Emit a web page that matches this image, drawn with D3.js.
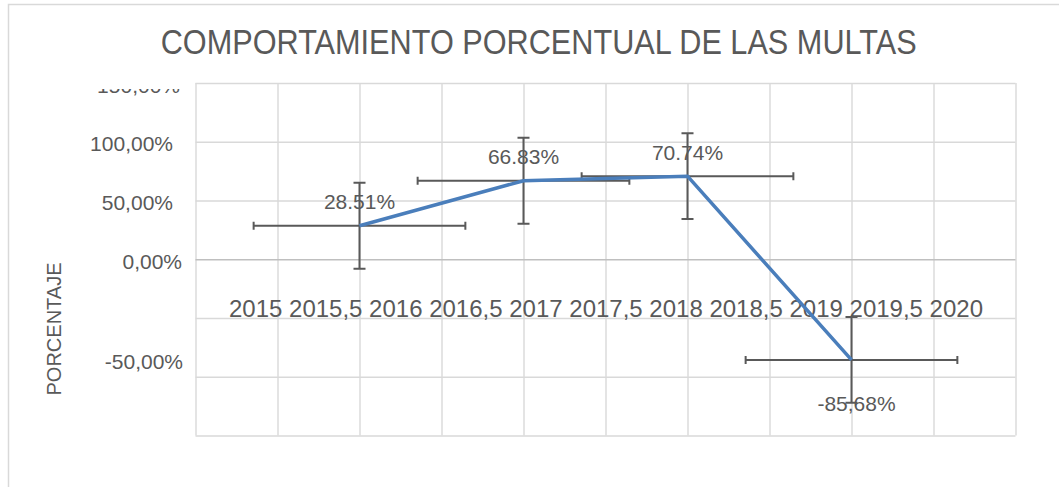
<!DOCTYPE html>
<html>
<head>
<meta charset="utf-8">
<script src="https://cdn.jsdelivr.net/npm/d3@7"></script>
<style>
  body { margin: 0; background: #fff; }
  text { font-family: "Liberation Sans", Arial, sans-serif; fill: #595959; }
</style>
</head>
<body>
<svg class="chart"></svg>
<script>
// data
var years = [2016, 2017, 2018, 2019];
var percents = [28.51, 66.83, 70.74, -85.68];
var pointLabels = ["28.51%", "66.83%", "70.74%", "-85,68%"];
var xTickLabels = ["2015", "2015,5", "2016", "2016,5", "2017", "2017,5", "2018", "2018,5", "2019", "2019,5", "2020"];
var yTickValues = [150, 100, 50, 0, -85];
var yTickLabels = ["150,00%", "100,00%", "50,00%", "0,00%", "-50,00%"];

var W = 1059, H = 487;
var plotLeft = 195.5, plotRight = 1015.5, plotTop = 83, plotBottom = 435.5;

var svg = d3.select(".chart")
    .attr("width", W)
    .attr("height", H);

// chart area border (runs off the right and bottom)
svg.append("rect")
    .attr("x", 8.5)
    .attr("y", 4.5)
    .attr("width", 1200)
    .attr("height", 700)
    .attr("fill", "#fff")
    .attr("stroke", "#d9d9d9")
    .attr("stroke-width", 1.5);

var x = d3.scaleLinear().domain([2015, 2020]).range([plotLeft, plotRight]);
var y = d3.scaleLinear().domain([-150, 150]).range([plotBottom, plotTop]);

// vertical gridlines
svg.append("g")
    .attr("transform", "translate(0," + plotBottom + ")")
    .call(d3.axisBottom(x).tickValues(d3.range(2015, 2020.01, 0.5)).tickSize(-(plotBottom - plotTop)).tickFormat(""))
    .call(g => g.select(".domain").remove())
    .call(g => g.selectAll("line").attr("stroke", "#d9d9d9").attr("stroke-width", 1.4));

// horizontal gridlines
svg.append("g")
    .attr("transform", "translate(" + plotLeft + ",0)")
    .call(d3.axisLeft(y).tickValues(d3.range(-150, 151, 50)).tickSize(-(plotRight - plotLeft)).tickFormat(""))
    .call(g => g.select(".domain").remove())
    .call(g => g.selectAll("line")
        .attr("stroke", d => d === 0 ? "#bfbfbf" : "#d9d9d9")
        .attr("stroke-width", 1.4));

// y tick labels (top one is half hidden in the original)
svg.append("clipPath").attr("id", "ylab")
  .append("rect").attr("x", 0).attr("y", 89).attr("width", 195).attr("height", 400);

var nudge = {"150": 7, "0": 9, "-85": 10};
svg.append("g")
    .attr("clip-path", "url(#ylab)")
  .selectAll("text")
  .data(yTickValues)
  .join("text")
    .attr("x", d => plotLeft - 22.5 + (nudge[d] || 0))
    .attr("y", d => y(d) + 9.5)
    .attr("text-anchor", "end")
    .attr("font-size", 21)
    .text((d, i) => yTickLabels[i]);

// x tick labels sit as one row between 0 and -50
svg.append("text")
    .attr("x", 606)
    .attr("y", 316.7)
    .attr("text-anchor", "middle")
    .attr("font-size", 24)
    .attr("textLength", 754)
    .attr("lengthAdjust", "spacingAndGlyphs")
    .text(xTickLabels.join(" "));

// axis title
svg.append("text")
    .attr("transform", "translate(60.5,329) rotate(-90)")
    .attr("text-anchor", "middle")
    .attr("font-size", 20)
    .text("PORCENTAJE");

// chart title
svg.append("text")
    .attr("x", 160.7)
    .attr("y", 54)
    .attr("font-size", 35)
    .attr("textLength", 756)
    .attr("lengthAdjust", "spacingAndGlyphs")
    .text("COMPORTAMIENTO PORCENTUAL DE LAS MULTAS");

var data = years.map((d, i) => ({x: d, y: percents[i], label: pointLabels[i]}));

// standard error bars, as Excel draws them
var xErr = d3.deviation(years) / Math.sqrt(years.length);
var yErr = d3.deviation(percents) / Math.sqrt(percents.length);

var bars = svg.append("g")
    .attr("stroke", "#595959")
    .attr("stroke-width", 2)
    .attr("fill", "none");

data.forEach(function(d) {
  var px = x(d.x), py = y(d.y);
  var x0 = x(d.x - xErr), x1 = x(d.x + xErr);
  var y0 = y(d.y + yErr), y1 = y(d.y - yErr);
  bars.append("path").attr("d",
      "M" + x0 + "," + py + "H" + x1 +
      "M" + x0 + "," + (py - 4) + "V" + (py + 4) +
      "M" + x1 + "," + (py - 4) + "V" + (py + 4));
  bars.append("path").attr("d",
      "M" + px + "," + y0 + "V" + y1 +
      "M" + (px - 6) + "," + y0 + "H" + (px + 6) +
      "M" + (px - 6) + "," + y1 + "H" + (px + 6));
});

// the series line
svg.append("path")
    .datum(data)
    .attr("fill", "none")
    .attr("stroke", "#4a7ebb")
    .attr("stroke-width", 3.5)
    .attr("stroke-linejoin", "round")
    .attr("d", d3.line().x(d => x(d.x)).y(d => y(d.y)));

// data labels
svg.append("g")
  .selectAll("text")
  .data(data)
  .join("text")
    .attr("x", d => x(d.x) + (d.y < 0 ? 5 : 0))
    .attr("y", d => y(d.y) + (d.y < 0 ? 51.5 : -16.5))
    .attr("text-anchor", "middle")
    .attr("font-size", 21)
    .text(d => d.label);
</script>
</body>
</html>
